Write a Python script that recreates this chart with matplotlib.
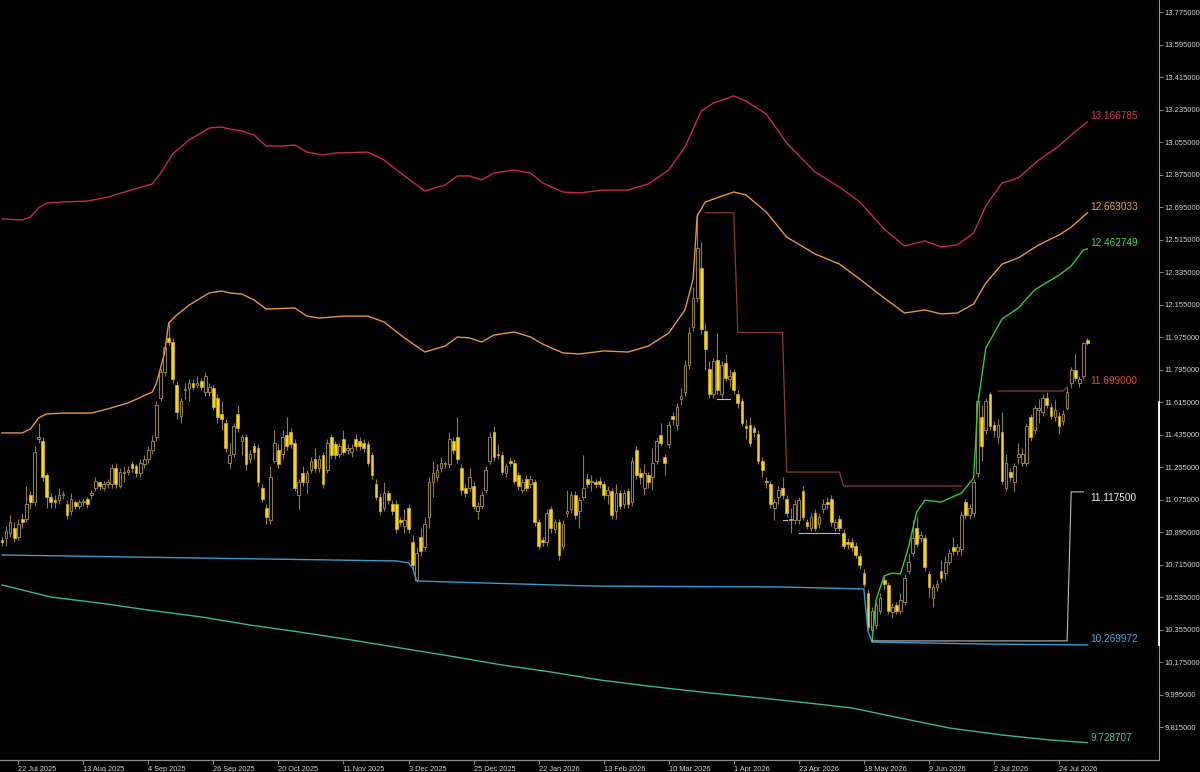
import numpy as np
import matplotlib
matplotlib.use('Agg')
import matplotlib.pyplot as plt

# daily candles, 268 bars (16 Jul 2025 .. 4 Aug 2026)
opens = [
    10.85, 10.86, 10.89, 10.92, 10.87, 10.97, 10.97, 11.10, 11.06, 11.41, 11.40, 11.21,
    11.09, 11.07, 11.07, 11.10, 11.05, 11.01, 11.06, 11.04, 11.06, 11.08, 11.10, 11.14,
    11.17, 11.14, 11.16, 11.16, 11.25, 11.15, 11.22, 11.23, 11.27, 11.26, 11.22, 11.27,
    11.30, 11.35, 11.42, 11.64, 11.78, 11.97, 11.95, 11.71, 11.54, 11.68, 11.69, 11.72,
    11.71, 11.73, 11.67, 11.67, 11.69, 11.64, 11.55, 11.50, 11.28, 11.33, 11.55, 11.40,
    11.42, 11.30, 11.37, 11.36, 11.14, 11.03, 10.96, 11.29, 11.35, 11.33, 11.43, 11.45,
    11.39, 11.10, 11.22, 11.17, 11.24, 11.30, 11.25, 11.32, 11.24, 11.42, 11.38, 11.33,
    11.41, 11.35, 11.34, 11.41, 11.40, 11.39, 11.38, 11.32, 11.16, 11.09, 11.03, 11.11,
    11.05, 11.05, 10.96, 10.93, 11.03, 10.84, 10.63, 10.87, 10.81, 10.98, 11.17, 11.20,
    11.25, 11.27, 11.27, 11.40, 11.42, 11.25, 11.14, 11.14, 11.15, 11.01, 11.04, 11.13,
    11.29, 11.45, 11.33, 11.32, 11.22, 11.29, 11.28, 11.21, 11.13, 11.19, 11.16, 11.17,
    10.95, 10.85, 10.84, 11.02, 10.91, 10.95, 10.82, 11.00, 11.02, 11.10, 11.01, 11.09,
    11.19, 11.17, 11.17, 11.18, 11.16, 11.10, 11.12, 11.01, 11.11, 11.05, 11.12, 11.06,
    11.35, 11.22, 11.14, 11.21, 11.20, 11.29, 11.43, 11.31, 11.38, 11.54, 11.49, 11.63,
    11.67, 11.82, 12.03, 12.19, 12.36, 12.01, 11.80, 11.66, 11.85, 11.66, 11.83, 11.74,
    11.78, 11.66, 11.62, 11.48, 11.49, 11.47, 11.44, 11.29, 11.18, 11.16, 11.03, 11.09,
    11.14, 11.08, 10.97, 10.96, 10.96, 11.12, 10.95, 10.92, 11.00, 10.94, 11.02, 11.06,
    11.08, 10.92, 10.97, 10.89, 10.84, 10.84, 10.82, 10.76, 10.67, 10.56, 10.35, 10.38,
    10.46, 10.63, 10.60, 10.45, 10.49, 10.46, 10.51, 10.68, 10.78, 10.92, 10.86, 10.86,
    10.66, 10.53, 10.59, 10.68, 10.67, 10.73, 10.81, 10.79, 10.80, 11.06, 10.99, 11.00,
    11.22, 11.53, 11.46, 11.66, 11.49, 11.42, 11.45, 11.14, 11.23, 11.17, 11.31, 11.28,
    11.28, 11.53, 11.46, 11.57, 11.56, 11.64, 11.59, 11.53, 11.54, 11.51, 11.58, 11.72,
    11.79, 11.72, 11.76, 11.96,
]
highs = [
    10.87, 10.93, 10.99, 10.95, 10.97, 11.00, 11.15, 11.12, 11.37, 11.50, 11.42, 11.22,
    11.11, 11.10, 11.14, 11.12, 11.07, 11.11, 11.07, 11.08, 11.08, 11.09, 11.13, 11.20,
    11.18, 11.18, 11.19, 11.27, 11.28, 11.25, 11.26, 11.26, 11.29, 11.27, 11.30, 11.32,
    11.37, 11.43, 11.62, 11.80, 11.95, 12.05, 11.97, 11.73, 11.64, 11.72, 11.74, 11.74,
    11.76, 11.75, 11.78, 11.72, 11.71, 11.66, 11.62, 11.52, 11.39, 11.50, 11.60, 11.44,
    11.44, 11.35, 11.39, 11.38, 11.16, 11.05, 11.26, 11.46, 11.38, 11.46, 11.53, 11.47,
    11.41, 11.19, 11.26, 11.24, 11.31, 11.36, 11.32, 11.34, 11.41, 11.44, 11.40, 11.39,
    11.46, 11.38, 11.38, 11.44, 11.42, 11.41, 11.40, 11.34, 11.19, 11.11, 11.17, 11.13,
    11.07, 11.07, 10.98, 11.02, 11.05, 10.88, 10.81, 10.92, 10.98, 11.20, 11.29, 11.27,
    11.31, 11.29, 11.45, 11.42, 11.53, 11.27, 11.16, 11.25, 11.17, 11.06, 11.12, 11.26,
    11.45, 11.48, 11.38, 11.34, 11.28, 11.31, 11.30, 11.23, 11.19, 11.21, 11.21, 11.19,
    10.97, 10.87, 11.02, 11.04, 10.97, 10.97, 10.96, 11.13, 11.12, 11.12, 11.09, 11.32,
    11.22, 11.21, 11.19, 11.20, 11.18, 11.15, 11.14, 11.16, 11.13, 11.13, 11.14, 11.31,
    11.37, 11.25, 11.27, 11.23, 11.36, 11.42, 11.50, 11.33, 11.51, 11.56, 11.61, 11.69,
    11.85, 12.03, 12.25, 12.663, 12.50, 12.05, 11.84, 11.86, 12.00, 11.84, 11.88, 11.80,
    11.80, 11.68, 11.64, 11.52, 11.53, 11.49, 11.46, 11.31, 11.20, 11.18, 11.08, 11.15,
    11.20, 11.10, 11.03, 11.07, 11.09, 11.15, 10.97, 11.00, 11.02, 11.00, 11.08, 11.09,
    11.10, 10.97, 10.99, 10.91, 10.86, 10.86, 10.84, 10.78, 10.69, 10.58, 10.48, 10.51,
    10.56, 10.65, 10.62, 10.50, 10.51, 10.56, 10.66, 10.78, 10.96, 10.98, 10.90, 10.88,
    10.68, 10.61, 10.63, 10.74, 10.76, 10.80, 10.87, 10.83, 11.01, 11.08, 11.05, 11.19,
    11.66, 11.60, 11.64, 11.67, 11.51, 11.52, 11.56, 11.33, 11.25, 11.28, 11.39, 11.36,
    11.50, 11.55, 11.60, 11.63, 11.66, 11.67, 11.61, 11.63, 11.56, 11.57, 11.699, 11.81,
    11.88, 11.76, 11.95, 11.97,
]
lows = [
    10.82, 10.82, 10.87, 10.84, 10.85, 10.92, 10.95, 11.02, 11.04, 11.39, 11.18, 11.03,
    11.03, 11.03, 11.05, 11.08, 10.97, 10.99, 11.02, 11.02, 11.04, 11.03, 11.08, 11.12,
    11.13, 11.12, 11.14, 11.14, 11.14, 11.14, 11.17, 11.21, 11.23, 11.20, 11.20, 11.25,
    11.28, 11.33, 11.40, 11.62, 11.76, 11.93, 11.72, 11.52, 11.50, 11.63, 11.62, 11.68,
    11.69, 11.68, 11.65, 11.65, 11.57, 11.50, 11.46, 11.34, 11.25, 11.31, 11.45, 11.32,
    11.24, 11.28, 11.30, 11.15, 11.06, 10.94, 10.94, 11.28, 11.25, 11.30, 11.35, 11.36,
    11.12, 11.02, 11.15, 11.11, 11.22, 11.23, 11.23, 11.14, 11.22, 11.30, 11.30, 11.31,
    11.32, 11.33, 11.31, 11.35, 11.35, 11.34, 11.26, 11.19, 11.07, 10.99, 11.01, 11.05,
    10.99, 10.89, 10.93, 10.89, 10.89, 10.69, 10.62, 10.76, 10.79, 10.92, 11.09, 11.18,
    11.23, 11.25, 11.25, 11.33, 11.28, 11.10, 11.09, 11.12, 11.02, 10.97, 11.02, 11.11,
    11.27, 11.29, 11.30, 11.21, 11.20, 11.26, 11.16, 11.13, 11.11, 11.12, 11.14, 10.93,
    10.80, 10.82, 10.82, 10.89, 10.89, 10.74, 10.80, 10.98, 11.00, 10.97, 10.92, 11.07,
    11.14, 11.12, 11.14, 11.14, 11.08, 11.05, 10.97, 10.97, 11.02, 11.03, 11.03, 11.04,
    11.19, 11.16, 11.10, 11.14, 11.13, 11.27, 11.37, 11.21, 11.36, 11.49, 11.46, 11.60,
    11.65, 11.80, 12.01, 12.17, 11.99, 11.79, 11.64, 11.64, 11.66, 11.64, 11.73, 11.70,
    11.66, 11.58, 11.48, 11.41, 11.37, 11.42, 11.27, 11.20, 11.14, 11.03, 10.96, 11.05,
    11.08, 10.98, 10.89, 10.94, 10.94, 10.96, 10.91, 10.90, 10.90, 10.92, 11.00, 11.02,
    10.93, 10.90, 10.90, 10.80, 10.80, 10.79, 10.75, 10.69, 10.59, 10.35, 10.29, 10.36,
    10.44, 10.58, 10.44, 10.42, 10.44, 10.44, 10.49, 10.66, 10.76, 10.81, 10.84, 10.68,
    10.53, 10.48, 10.57, 10.62, 10.63, 10.71, 10.77, 10.77, 10.77, 10.97, 10.97, 10.98,
    11.20, 11.29, 11.44, 11.46, 11.42, 11.39, 11.16, 11.12, 11.18, 11.12, 11.27, 11.26,
    11.26, 11.40, 11.44, 11.50, 11.54, 11.58, 11.52, 11.51, 11.44, 11.49, 11.57, 11.69,
    11.73, 11.70, 11.74, 11.93,
]
closes = [
    10.84, 10.90, 10.95, 10.86, 10.94, 10.95, 11.05, 11.06, 11.34, 11.42, 11.20, 11.09,
    11.06, 11.06, 11.10, 11.10, 10.99, 11.08, 11.04, 11.06, 11.06, 11.05, 11.11, 11.18,
    11.15, 11.16, 11.17, 11.25, 11.16, 11.23, 11.23, 11.24, 11.25, 11.22, 11.28, 11.30,
    11.35, 11.40, 11.60, 11.78, 11.92, 11.95, 11.74, 11.56, 11.62, 11.68, 11.72, 11.70,
    11.72, 11.70, 11.76, 11.70, 11.59, 11.53, 11.52, 11.36, 11.32, 11.48, 11.47, 11.42,
    11.27, 11.33, 11.34, 11.17, 11.08, 10.98, 11.20, 11.39, 11.27, 11.42, 11.37, 11.38,
    11.14, 11.17, 11.17, 11.22, 11.29, 11.25, 11.30, 11.16, 11.39, 11.32, 11.32, 11.37,
    11.34, 11.36, 11.36, 11.37, 11.37, 11.36, 11.28, 11.21, 11.09, 11.01, 11.11, 11.07,
    11.01, 10.91, 10.95, 10.96, 10.91, 10.71, 10.78, 10.79, 10.94, 11.17, 11.22, 11.24,
    11.28, 11.27, 11.41, 11.35, 11.30, 11.13, 11.11, 11.20, 11.04, 11.04, 11.10, 11.24,
    11.42, 11.31, 11.32, 11.23, 11.26, 11.28, 11.18, 11.15, 11.17, 11.14, 11.19, 10.95,
    10.82, 10.84, 11.00, 10.92, 10.95, 10.77, 10.94, 11.01, 11.10, 10.99, 11.07, 11.14,
    11.16, 11.18, 11.16, 11.16, 11.10, 11.13, 10.99, 11.11, 11.04, 11.11, 11.05, 11.29,
    11.21, 11.20, 11.22, 11.17, 11.28, 11.40, 11.39, 11.28, 11.49, 11.52, 11.59, 11.65,
    11.82, 12.00, 12.19, 12.47, 12.02, 11.91, 11.66, 11.84, 11.68, 11.82, 11.75, 11.76,
    11.68, 11.61, 11.50, 11.47, 11.39, 11.45, 11.29, 11.24, 11.17, 11.05, 11.06, 11.13,
    11.10, 11.00, 10.96, 11.05, 11.07, 10.98, 10.93, 10.98, 10.92, 10.98, 11.05, 11.05,
    10.95, 10.95, 10.92, 10.82, 10.83, 10.81, 10.77, 10.71, 10.61, 10.37, 10.46, 10.49,
    10.53, 10.61, 10.46, 10.48, 10.46, 10.52, 10.64, 10.73, 10.86, 10.83, 10.88, 10.70,
    10.59, 10.59, 10.61, 10.64, 10.73, 10.78, 10.79, 10.81, 10.99, 10.99, 11.03, 11.17,
    11.62, 11.37, 11.62, 11.48, 11.46, 11.49, 11.18, 11.28, 11.20, 11.26, 11.33, 11.33,
    11.48, 11.42, 11.58, 11.58, 11.64, 11.60, 11.54, 11.57, 11.48, 11.55, 11.67, 11.79,
    11.75, 11.74, 11.94, 11.94,
]

date_labels = ['22 Jul 2025', '13 Aug 2025', '4 Sep 2025', '26 Sep 2025', '20 Oct 2025',
               '11 Nov 2025', '3 Dec 2025', '25 Dec 2025', '22 Jan 2026', '13 Feb 2026',
               '10 Mar 2026', '1 Apr 2026', '23 Apr 2026', '18 May 2026', '9 Jun 2026',
               '2 Jul 2026', '24 Jul 2026']
first_label_bar = 4
bars_per_label = 16

price_ticks = [13.775, 13.595, 13.415, 13.235, 13.055, 12.875, 12.695, 12.515, 12.335,
               12.155, 11.975, 11.795, 11.615, 11.435, 11.255, 11.075, 10.895, 10.715,
               10.535, 10.355, 10.175, 9.995, 9.815]

# upper band (red)
red_idx = [0, 5, 7, 9, 11, 15, 21, 26, 31, 37, 39, 42, 46, 51, 54, 56, 59, 62, 65, 69, 72,
           75, 79, 82, 90, 94, 99, 104, 109, 112, 115, 118, 121, 126, 130, 133, 138, 142,
           148, 154, 159, 164, 168, 172, 175, 180, 183, 188, 193, 200, 206, 211, 217, 222,
           227, 231, 235, 239, 242, 246, 250, 255, 260, 263, 267]
red_vals = [12.629, 12.623, 12.640, 12.690, 12.717, 12.723, 12.728, 12.750, 12.784, 12.823,
            12.883, 12.989, 13.066, 13.133, 13.138, 13.127, 13.116, 13.094, 13.033, 13.033,
            13.038, 12.999, 12.983, 12.994, 12.999, 12.955, 12.867, 12.784, 12.817, 12.867,
            12.867, 12.845, 12.883, 12.900, 12.883, 12.828, 12.778, 12.773, 12.789, 12.789,
            12.823, 12.900, 13.027, 13.227, 13.271, 13.310, 13.282, 13.210, 13.050, 12.889,
            12.806, 12.723, 12.573, 12.479, 12.507, 12.474, 12.485, 12.551, 12.701, 12.828,
            12.856, 12.955, 13.033, 13.094, 13.167]

# middle band (orange)
orange_idx = [0, 5, 7, 9, 11, 15, 22, 26, 31, 37, 38, 40, 41, 43, 46, 51, 54, 56, 59, 62,
              65, 72, 75, 78, 84, 90, 94, 99, 104, 109, 112, 115, 118, 121, 126, 130, 133,
              138, 142, 148, 154, 159, 164, 168, 170, 171, 173, 175, 180, 183, 188, 193,
              200, 206, 211, 217, 222, 227, 231, 235, 239, 242, 246, 250, 255, 260, 263,
              267]
orange_vals = [11.444, 11.444, 11.466, 11.527, 11.549, 11.554, 11.554, 11.577, 11.610,
               11.671, 11.720, 11.887, 12.053, 12.097, 12.152, 12.219, 12.230, 12.219,
               12.213, 12.180, 12.130, 12.136, 12.091, 12.080, 12.091, 12.091, 12.058,
               11.970, 11.892, 11.925, 11.975, 11.970, 11.947, 11.986, 12.003, 11.975,
               11.936, 11.887, 11.881, 11.898, 11.892, 11.925, 11.997, 12.125, 12.296,
               12.645, 12.723, 12.739, 12.778, 12.762, 12.667, 12.529, 12.435, 12.379,
               12.296, 12.191, 12.108, 12.125, 12.103, 12.108, 12.158, 12.274, 12.379,
               12.413, 12.485, 12.540, 12.584, 12.663]

# trailing line (green)
green_idx = [214, 215, 217, 219, 221, 223, 225, 227, 231, 236, 239, 240, 242, 246, 250,
             254, 260, 263, 266, 267]
green_vals = [10.292, 10.519, 10.652, 10.668, 10.663, 10.812, 11.006, 11.072, 11.061,
              11.111, 11.194, 11.599, 11.914, 12.075, 12.136, 12.236, 12.318, 12.368,
              12.457, 12.463]

# support line (blue)
blue_idx = [0, 49, 97, 100, 101, 102, 111, 145, 191, 212, 213, 214, 241, 267]
blue_vals = [10.768, 10.751, 10.735, 10.724, 10.696, 10.624, 10.618, 10.596, 10.591,
             10.580, 10.347, 10.286, 10.275, 10.270]

# long average (teal)
teal_idx = [0, 12, 24, 36, 49, 61, 73, 86, 98, 110, 123, 135, 147, 159, 172, 184, 196,
            209, 221, 233, 246, 258, 267]
teal_vals = [10.602, 10.535, 10.502, 10.463, 10.425, 10.380, 10.342, 10.297, 10.253,
             10.209, 10.159, 10.120, 10.076, 10.042, 10.009, 9.982, 9.954, 9.921, 9.865,
             9.810, 9.771, 9.743, 9.729]

# highest high steps (brown) and lowest low steps (grey): first bar + values
hh_starts = [173, 245]
hh_values = [[12.663] * 8 + [12.0] * 12 + [11.227] * 14 + [11.15] * 30,
             [11.676] * 17 + [11.699]]
ll_starts = [176, 192, 196, 214]
ll_values = [[11.632] * 4, [10.962] * 2, [10.887] * 11, [10.292] * 49 + [11.1175] * 4]

value_labels = ['13.166785', '12.663033', '12.462749', '11.699000', '11.117500',
                '10.269972', '9.728707']
label_colors = ['#D8394F', '#F0A050', '#44DD44', '#E0502A', '#F0F0F0', '#48A8E0', '#48C890']
label_dy = [6, 6, 6, 6, -6, 6, 5]

YELLOW = '#F7D21E'
WICK = '#8C7C42'

o = np.array(opens)
h = np.array(highs)
l = np.array(lows)
c = np.array(closes)
n = len(c)
x = np.arange(n)

fig = plt.figure(figsize=(12, 7.72), dpi=100, facecolor='black')
ax = fig.add_axes([0, 12 / 772, 1159 / 1200, 760 / 772])
ax.set_facecolor('black')

# indicator lines
ax.plot(red_idx, red_vals, color='#C82C46', lw=1.0, zorder=4)
ax.plot(orange_idx, orange_vals, color='#E8963C', lw=1.0, zorder=4)
ax.plot(green_idx, green_vals, color='#34CC34', lw=1.0, zorder=4)
ax.plot(blue_idx, blue_vals, color='#3A9AD0', lw=1.0, zorder=4)
ax.plot(teal_idx, teal_vals, color='#36BC80', lw=1.0, zorder=4)
for s, v in zip(hh_starts, hh_values):
    ax.plot(np.arange(s, s + len(v)), v, color='#8E3A2C', lw=0.9, zorder=4)
for s, v in zip(ll_starts, ll_values):
    ax.plot(np.arange(s, s + len(v)), v, color='#BDBDBD', lw=0.8, zorder=4)

# candles
up = c >= o
ax.vlines(x, l, h, color=WICK, lw=0.8, zorder=2)
lo = np.minimum(o, c)
ht = np.maximum(np.abs(c - o), 0.006)
ax.bar(x[up], ht[up], bottom=lo[up], width=0.66, color='black', edgecolor=WICK,
       linewidth=0.75, zorder=3)
ax.bar(x[~up], ht[~up], bottom=lo[~up], width=0.66, color=YELLOW, edgecolor='#D8B420',
       linewidth=0.5, zorder=3)

# value labels at the right end
for txt, col, dy in zip(value_labels, label_colors, label_dy):
    ax.annotate(txt, xy=(n - 1, float(txt)), xytext=(3, dy), textcoords='offset pixels',
                color=col, fontsize=7.2, family='Liberation Sans', va='center', ha='left',
                zorder=6)

ax.set_xlim(-0.49, 284.6)
ax.set_ylim(9.6326, 13.8415)

ax.set_xticks([first_label_bar + bars_per_label * k for k in range(len(date_labels))])
ax.set_xticklabels(date_labels, family='Liberation Sans', fontsize=5.3, color='#D0D0D0')
for lbl in ax.get_xticklabels():
    lbl.set_horizontalalignment('left')
ax.yaxis.tick_right()
ax.set_yticks(price_ticks)
ax.set_yticklabels([f'{v:.6f}' for v in price_ticks], family='Liberation Sans',
                   fontsize=5.5, color='#D0D0D0')
ax.tick_params(axis='x', length=3, width=0.6, color='#9A9A9A', pad=1)
ax.tick_params(axis='y', length=3, width=0.6, color='#9A9A9A', pad=1)

for side in ['top', 'left']:
    ax.spines[side].set_visible(False)
ax.spines['right'].set_color('#9A9A9A')
ax.spines['right'].set_linewidth(0.7)
ax.spines['bottom'].set_color('#8A8A8A')
ax.spines['bottom'].set_linewidth(0.9)
ax.plot([1, 1], [10.27, 11.615], transform=ax.get_yaxis_transform(), color='white',
        lw=1.3, clip_on=False, zorder=7)

fig.savefig('out.png', dpi=100, facecolor='black')
